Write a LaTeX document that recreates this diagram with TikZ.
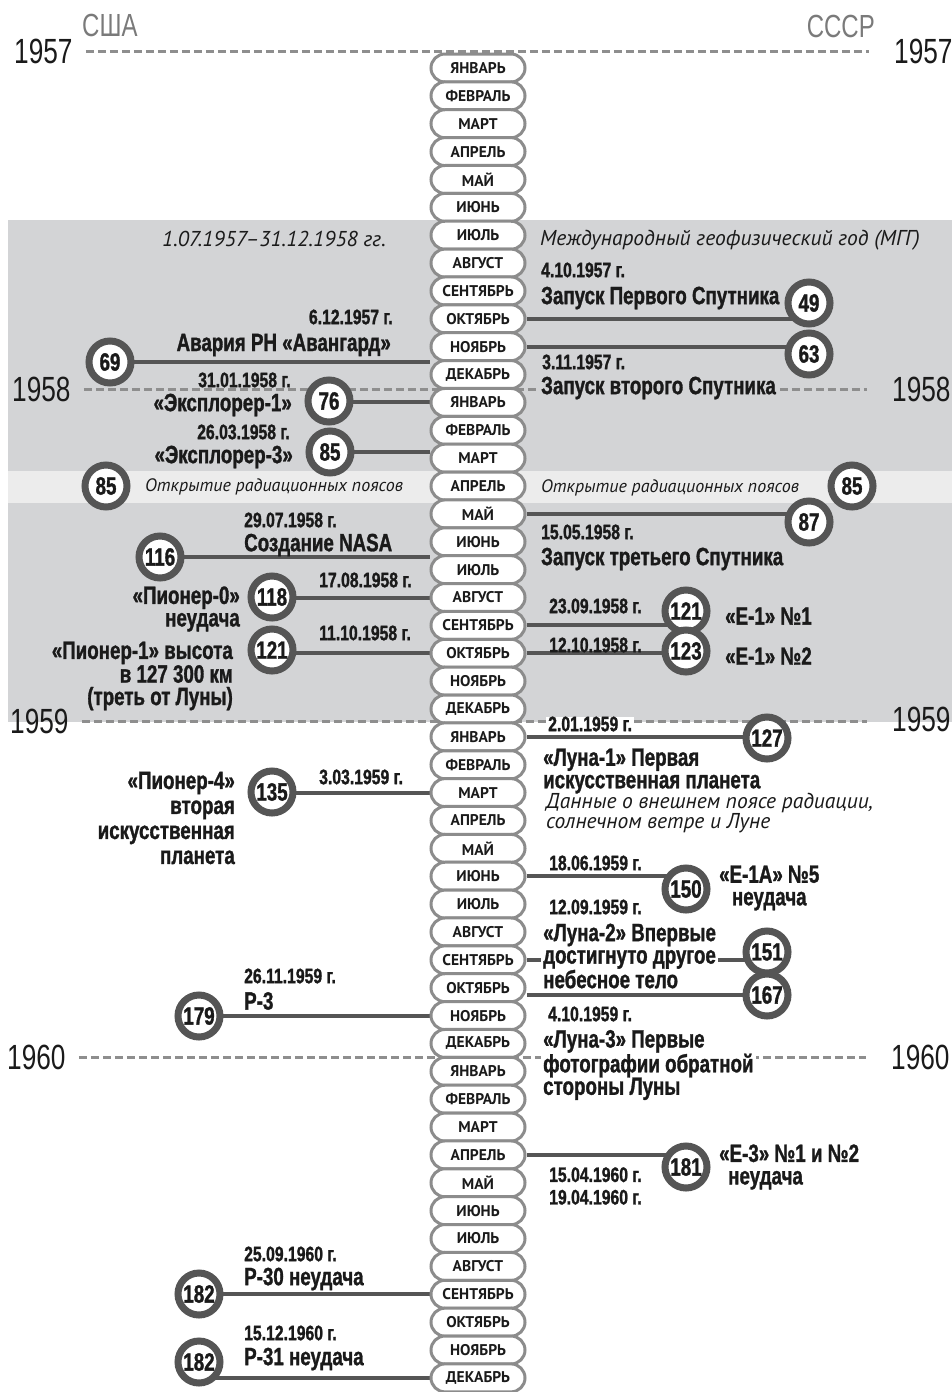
\documentclass[tikz,border=0pt]{standalone}
\usepackage{fontspec}
\setmainfont{Liberation Sans}
\newfontfamily\condf[FakeStretch=0.75,BoldFeatures={FakeBold=1.2}]{Liberation Sans}
\newfontfamily\ptf{PT Sans}
\definecolor{bandgrey}{HTML}{D3D4D6}
\definecolor{lightband}{HTML}{ECECEC}
\definecolor{pillgrey}{HTML}{8C8C8C}
\definecolor{ringgrey}{HTML}{555555}
\definecolor{dashgrey}{HTML}{8E8E8E}
\definecolor{countrygrey}{HTML}{7A7A7A}
\definecolor{ink}{HTML}{1A1A1A}
\pgfdeclarelayer{back}\pgfdeclarelayer{lines}\pgfsetlayers{back,lines,main}
\tikzset{
 month/.style={draw=pillgrey,line width=3pt,fill=white,rounded corners=14pt,minimum width=94pt,minimum height=28pt,inner sep=0pt,text=ink,font=\ptf\bfseries\fontsize{15.5}{15.5}\selectfont},
 ring/.style={circle,draw=ringgrey,line width=7pt,fill=white,minimum size=42pt,inner sep=0pt,text=ink,font=\condf\bfseries\fontsize{25}{25}\selectfont},
 conn/.style={draw=ringgrey,line width=4pt},
 yearline/.style={draw=dashgrey,line width=3pt,dash pattern=on 8pt off 4pt},
 year/.style={inner sep=0pt,text=ink,font=\condf\fontsize{35}{35}\selectfont},
 country/.style={inner sep=0pt,text=countrygrey,font=\condf\fontsize{32}{32}\selectfont},
 datelbl/.style={inner sep=0pt,text=ink,font=\condf\bfseries\fontsize{21}{22.5}\selectfont},
 eventlbl/.style={inner sep=0pt,text=ink,font=\condf\bfseries\fontsize{25}{22.5}\selectfont},
 note/.style={inner sep=0pt,text=ink,font=\ptf\itshape\fontsize{18}{20}\selectfont},
 bignote/.style={note,font=\ptf\itshape\fontsize{21.5}{20}\selectfont}
}
\begin{document}
\begin{tikzpicture}[x=1pt,y=-1pt]
\useasboundingbox (0,0) rectangle (952,1392);
\begin{pgfonlayer}{back}
\fill[bandgrey](8,220)rectangle(952,722);\fill[lightband](8,471)rectangle(952,503);
\end{pgfonlayer}
% years
\node[country,anchor=west](usa)at(82,25){США};\node[country,anchor=east](ussr)at(875,26){СССР};
\node[year,anchor=west](yl57)at(14,51){1957};\node[year,anchor=west](yr57)at(894,51){1957};
\node[year,anchor=west](yl58)at(12,389){1958};\node[year,anchor=west](yr58)at(892,389){1958};
\node[year,anchor=west](yl59)at(10,721){1959};\node[year,anchor=west](yr59)at(892,719){1959};
\node[year,anchor=west](yl60)at(7,1057){1960};\node[year,anchor=west](yr60)at(891,1057){1960};
% months
\foreach \yr in {0,...,3}{
 \foreach \mon [count=\k from 0] in {ЯНВАРЬ,ФЕВРАЛЬ,МАРТ,АПРЕЛЬ,МАЙ,ИЮНЬ,ИЮЛЬ,АВГУСТ,СЕНТЯБРЬ,ОКТЯБРЬ,НОЯБРЬ,ДЕКАБРЬ}{
  \pgfmathtruncatemacro\idx{12*\yr+\k}
  \node[month](m\idx)at(478,{68+27.87*\idx}){\mon};}}
% circles
\node[ring](c49)at(809,303){49};\node[ring](c63)at(809,354){63};\node[ring](c85r)at(852,486){85};
\node[ring](c87)at(809,522){87};\node[ring](c121r)at(686,611){121};\node[ring](c123)at(686,651){123};
\node[ring](c127)at(767,738){127};\node[ring](c150)at(686,889){150};\node[ring](c151)at(767,952){151};
\node[ring](c167)at(767,995){167};\node[ring](c181)at(686,1167){181};
\node[ring](c69)at(110,362){69};\node[ring](c76)at(329,401){76};\node[ring](c85e)at(330,452){85};
\node[ring](c85l)at(106,486){85};\node[ring](c116)at(160,557){116};\node[ring](c118)at(272,597){118};
\node[ring](c121l)at(272,650){121};\node[ring](c135)at(272,792){135};\node[ring](c179)at(199,1016){179};
\node[ring](c182a)at(199,1294){182};\node[ring](c182b)at(199,1362){182};
% texts, USSR side
\node[bignote,anchor=west](igy)at(540,240){Международный геофизический год (МГГ)};
\node[datelbl,anchor=west](d49)at(541,270){4.10.1957 г.};
\node[eventlbl,anchor=west](e49)at(541,298){Запуск Первого Спутника};
\node[datelbl,anchor=west](d63)at(542,362){3.11.1957 г.};
\node[eventlbl,anchor=west,fill=bandgrey,inner xsep=2pt](e63)at(539,388){Запуск второго Спутника};
\node[note,anchor=west](belt1)at(541,488){Открытие радиационных поясов};
\node[datelbl,anchor=west](d87)at(541,532){15.05.1958 г.};
\node[eventlbl,anchor=west](e87)at(541,559){Запуск третьего Спутника};
\node[datelbl,anchor=west](d121r)at(549,606){23.09.1958 г.};
\node[eventlbl,anchor=west](e121r)at(725,616){«Е-1» №1};
\node[datelbl,anchor=west](d123)at(549,645){12.10.1958 г.};
\node[eventlbl,anchor=west](e123)at(725,656){«Е-1» №2};
\node[datelbl,anchor=west,fill=white,inner xsep=2pt](d127)at(546,724){2.01.1959 г.};
\node[eventlbl,anchor=west,align=left](e127)at(543,771){«Луна-1» Первая\\искусственная планета};
\node[bignote,anchor=west,align=left](n127)at(546,813){Данные о внешнем поясе радиации,\\солнечном ветре и Луне};
\node[datelbl,anchor=west](d150)at(549,863){18.06.1959 г.};
\node[eventlbl,anchor=west,align=center](e150)at(719,888){«Е-1А» №5\\неудача};
\node[datelbl,anchor=west](d151)at(549,907){12.09.1959 г.};
\node[eventlbl,anchor=west,align=left,fill=white,inner xsep=2pt](e151)at(541,956){«Луна-2» Впервые\\достигнуто другое\\небесное тело};
\node[datelbl,anchor=west](d167)at(548,1014){4.10.1959 г.};
\node[eventlbl,anchor=west,align=left,fill=white,inner xsep=2pt](e167)at(541,1065){«Луна-3» Первые\\фотографии обратной\\стороны Луны};
\node[eventlbl,anchor=west,align=left](e181)at(719,1167){«Е-3» №1 и №2\\\hspace*{9pt}неудача};
\node[datelbl,anchor=west,align=left](d181)at(549,1186){15.04.1960 г.\\19.04.1960 г.};
% texts, USA side
\node[bignote,anchor=east](igyd)at(386,239){1.07.1957–31.12.1958 гг.};
\node[datelbl,anchor=east](d69)at(393,317){6.12.1957 г.};
\node[eventlbl,anchor=east](e69)at(391,345){Авария РН «Авангард»};
\node[datelbl,anchor=east,fill=bandgrey,inner xsep=2pt](d76)at(293,380){31.01.1958 г.};
\node[eventlbl,anchor=east](e76)at(292,405){«Эксплорер-1»};
\node[datelbl,anchor=east](d85e)at(290,432){26.03.1958 г.};
\node[eventlbl,anchor=east](e85e)at(293,457){«Эксплорер-3»};
\node[note,anchor=west](belt2)at(145,487){Открытие радиационных поясов};
\node[datelbl,anchor=west](d116)at(244,520){29.07.1958 г.};
\node[eventlbl,anchor=west](e116)at(244,545){Создание NASA};
\node[datelbl,anchor=west](d118)at(319,580){17.08.1958 г.};
\node[eventlbl,anchor=east,align=right](e118)at(240,609){«Пионер-0»\\неудача};
\node[datelbl,anchor=west](d121l)at(319,633){11.10.1958 г.};
\node[eventlbl,anchor=east,align=right](e121l)at(233,676){«Пионер-1» высота\\в 127 300 км\\(треть от Луны)};
\node[datelbl,anchor=west](d135)at(319,777){3.03.1959 г.};
\node[eventlbl,anchor=east,align=right,font=\condf\bfseries\fontsize{25}{25}\selectfont](e135)at(235,818){«Пионер-4»\\вторая\\искусственная\\планета};
\node[datelbl,anchor=west](d179)at(244,976){26.11.1959 г.};
\node[eventlbl,anchor=west](e179)at(244,1001){Р-3};
\node[datelbl,anchor=west](d182a)at(244,1254){25.09.1960 г.};
\node[eventlbl,anchor=west](e182a)at(244,1279){Р-30 неудача};
\node[datelbl,anchor=west](d182b)at(244,1333){15.12.1960 г.};
\node[eventlbl,anchor=west](e182b)at(244,1359){Р-31 неудача};
\begin{pgfonlayer}{lines}
\foreach \y in {57,58,59,60}\draw[yearline,shorten <=13pt,shorten >=25pt](yl\y.east)--(yl\y.east-|yr\y.west);
\draw[conn](m9.east)--(m9.east-|c49);\draw[conn](m10.east)--(m10.east-|c63);\draw[conn](m16.east)--(m16.east-|c87);
\draw[conn](m20.east)--(m20.east-|c121r);\draw[conn](m21.east)--(m21.east-|c123);\draw[conn](m24.east)--(m24.east-|c127);
\draw[conn](m29.east)--(m29.east-|c150);\draw[conn](m32.east)--(m32.east-|c151);\draw[conn](c167.center)--(c167-|m33.east);
\draw[conn](m39.east)--(m39.east-|c181);
\draw[conn](c69.center)--(c69-|m11.west);\draw[conn](m12.west)--(m12.west-|c76);\draw[conn](c85e.center)--(c85e-|m14.west);
\draw[conn](c116.center)--(c116-|m18.west);\draw[conn](m19.west)--(m19.west-|c118);\draw[conn](m21.west)--(m21.west-|c121l);
\draw[conn](m26.west)--(m26.west-|c135);\draw[conn](m34.west)--(m34.west-|c179);\draw[conn](m44.west)--(m44.west-|c182a);
\draw[conn](m47.west)--(m47.west-|c182b);
\end{pgfonlayer}
\end{tikzpicture}
\end{document}
